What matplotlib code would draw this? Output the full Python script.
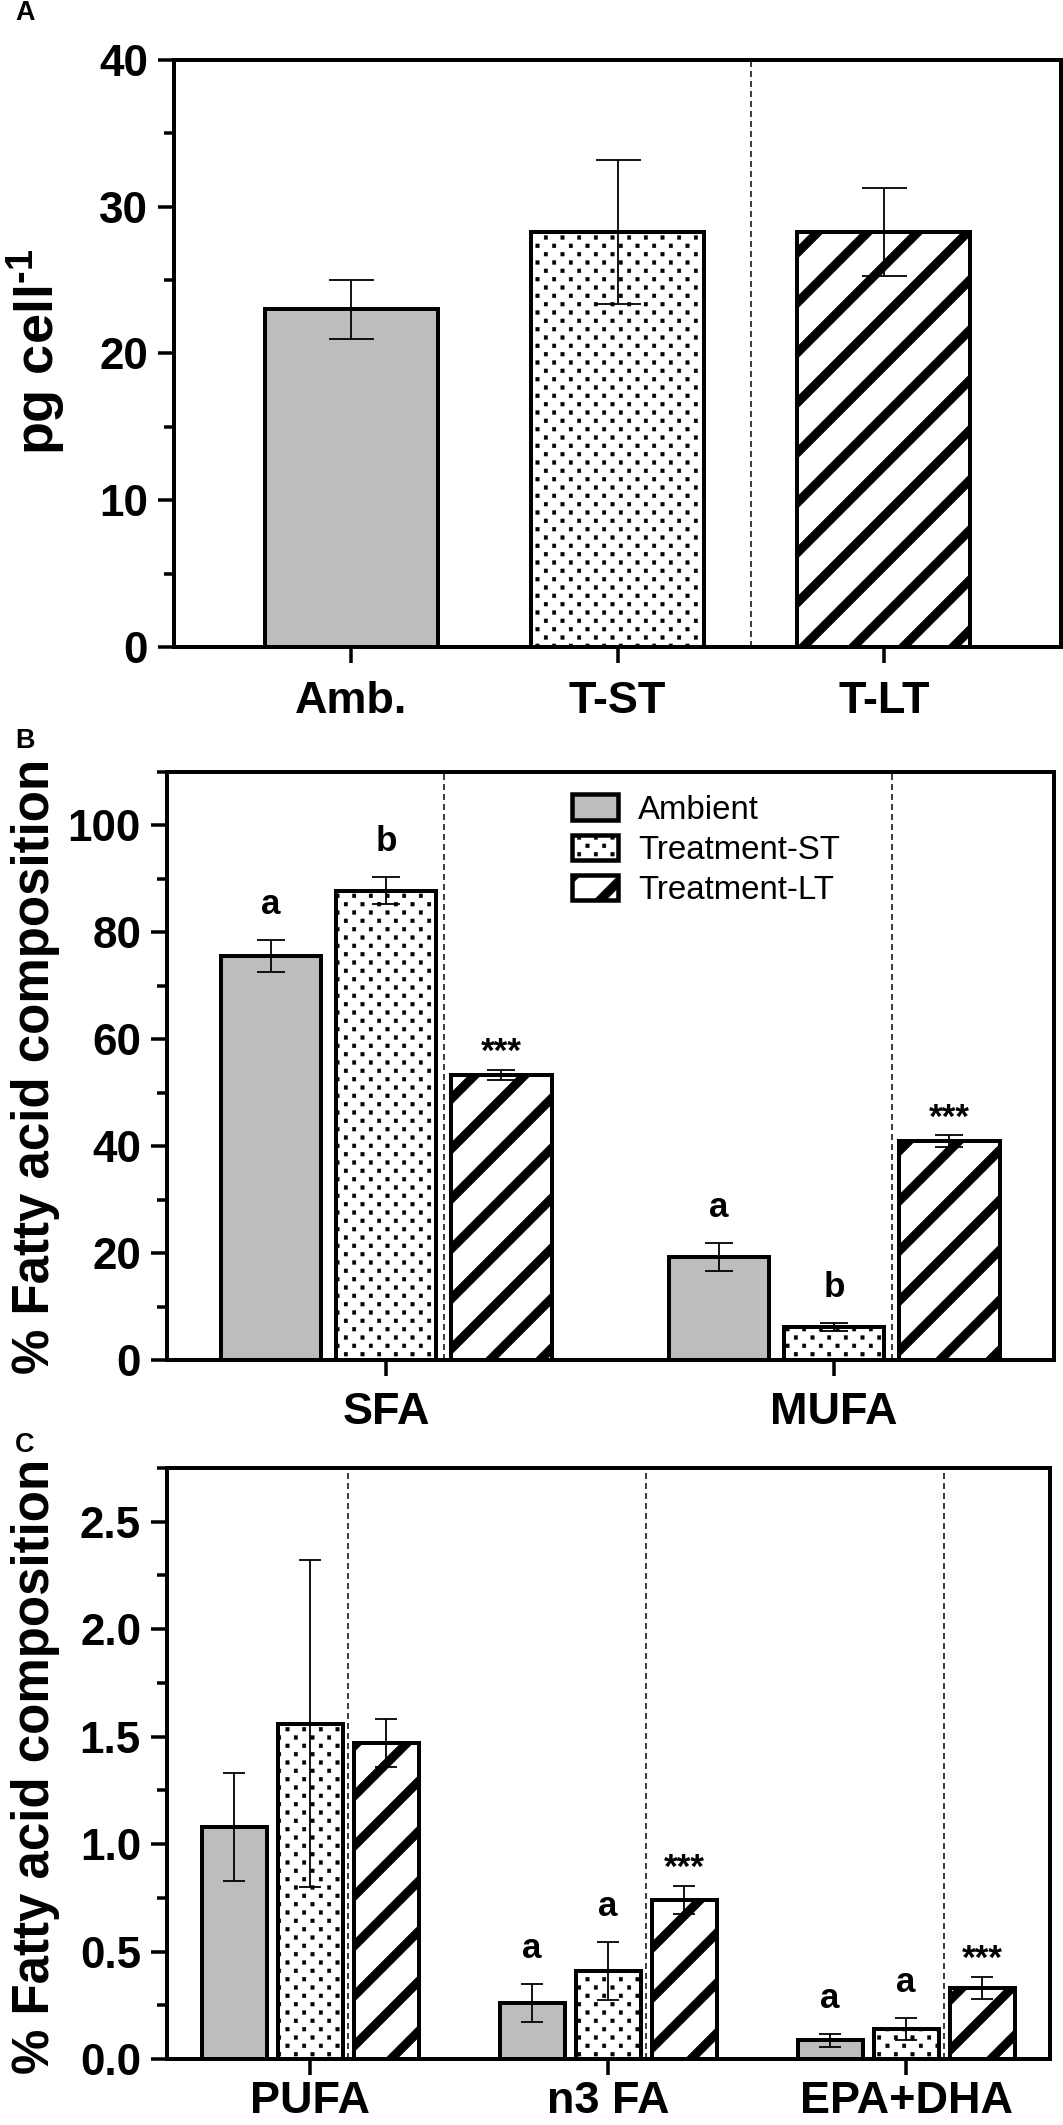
import numpy as np
import matplotlib
matplotlib.use('Agg')
import matplotlib.pyplot as plt
import matplotlib.hatch as mhatch
from matplotlib.path import Path
from matplotlib.ticker import MultipleLocator

# ---------------- data ----------------
a_categories = ['Amb.', 'T-ST', 'T-LT']
a_values = [23.0, 28.3, 28.3]
a_errors = [2.0, 4.9, 3.0]

series_names = ['Ambient', 'Treatment-ST', 'Treatment-LT']

b_groups = ['SFA', 'MUFA']
b_ambient = [75.5, 19.3]
b_ambient_err = [3.0, 2.6]
b_st = [87.8, 6.2]
b_st_err = [2.5, 0.7]
b_lt = [53.3, 40.9]
b_lt_err = [0.9, 1.1]
b_ambient_sig = ['a', 'a']
b_st_sig = ['b', 'b']
b_lt_sig = ['***', '***']

c_groups = ['PUFA', 'n3 FA', 'EPA+DHA']
c_ambient = [1.08, 0.26, 0.088]
c_ambient_err = [0.25, 0.09, 0.03]
c_st = [1.56, 0.41, 0.14]
c_st_err = [0.76, 0.135, 0.05]
c_lt = [1.47, 0.74, 0.33]
c_lt_err = [0.11, 0.066, 0.05]
c_ambient_sig = ['', 'a', 'a']
c_st_sig = ['', 'a', 'a']
c_lt_sig = ['', '***', '***']

# ---------------- styling helpers ----------------
DPI = 300
W, H = 1063, 2125


def pt(px):
    return px * 72.0 / DPI


class StaggeredDots(mhatch.HatchPatternBase):
    """Staggered grid of small filled squares used for the '.' hatch."""

    def __init__(self, hatch, density):
        if hatch.count('.'):
            self.ncols, self.nrows = 18, 36
        else:
            self.ncols, self.nrows = 0, 0
        self.num_vertices = self.ncols * self.nrows * 5

    def set_vertices_and_codes(self, vertices, codes):
        hx = 3.4 / DPI / 2
        hy = 3.8 / DPI / 2
        pts = []
        for r in range(self.nrows):
            shift = 0.5 if r % 2 else 0.0
            y = (r + 0.5) / self.nrows
            for c in range(self.ncols):
                pts.append((((c + 0.25 + shift) / self.ncols) % 1.0, y))
        centers = np.array(pts)
        sq = np.array([[-hx, -hy], [hx, -hy], [hx, hy], [-hx, hy], [-hx, -hy]])
        vertices[:] = (centers[:, None, :] + sq[None, :, :]).reshape(-1, 2)
        cc = np.array([Path.MOVETO, Path.LINETO, Path.LINETO, Path.LINETO, Path.CLOSEPOLY])
        codes[:] = np.tile(cc, len(centers))


mhatch._hatch_types = [t for t in mhatch._hatch_types
                       if t is not mhatch.SmallFilledCircles] + [StaggeredDots]

plt.rcParams['font.family'] = ['Liberation Sans', 'DejaVu Sans']
plt.rcParams['mathtext.fontset'] = 'custom'
plt.rcParams['mathtext.bf'] = 'Liberation Sans:bold'
plt.rcParams['mathtext.rm'] = 'Liberation Sans:bold'
plt.rcParams['lines.scale_dashes'] = False
plt.rcParams['hatch.color'] = 'black'

STYLES = [
    dict(fc='#bdbdbd', hatch=None, hlw=1.0),
    dict(fc='white', hatch='.', hlw=pt(0.4)),
    dict(fc='white', hatch='//', hlw=pt(9.0)),
]

fig = plt.figure(figsize=(W / DPI, H / DPI), dpi=DPI)


def add_axes(left, top, right, bottom):
    return fig.add_axes([left / W, 1 - bottom / H, (right - left) / W, (bottom - top) / H])


ax_a = add_axes(174, 60, 1061, 647)
ax_b = add_axes(167, 772, 1054, 1360)
ax_c = add_axes(167, 1468, 1050, 2059)


def set_hlw(patch, lw):
    if hasattr(patch, 'set_hatch_linewidth'):
        patch.set_hatch_linewidth(lw)


def draw_bars(ax, x, h, err, width, style, capw, label=None):
    plt.rcParams['hatch.linewidth'] = style['hlw']
    bars = ax.bar(x, h, width, color=style['fc'], edgecolor='black',
                  linewidth=pt(4), hatch=style['hatch'], label=label, zorder=2)
    for p in bars:
        set_hlw(p, style['hlw'])
    ax.errorbar(x, h, yerr=err, fmt='none', ecolor='black', elinewidth=pt(1.8),
                capsize=pt(capw / 2), capthick=pt(1.8), zorder=3)
    return bars


def style_axes(ax, xlim, ylim, major, minor, xticks, xlabels, xpad):
    ax.set_xlim(*xlim)
    ax.set_ylim(*ylim)
    ax.yaxis.set_major_locator(MultipleLocator(major))
    ax.yaxis.set_minor_locator(MultipleLocator(minor))
    ax.set_xticks(xticks)
    ax.set_xticklabels(xlabels)
    ax.tick_params(axis='both', which='major', direction='out', length=pt(16),
                   width=pt(3.5), color='black')
    ax.tick_params(axis='y', which='major', labelsize=pt(44), pad=pt(10))
    ax.tick_params(axis='x', which='major', labelsize=pt(45), pad=pt(xpad))
    ax.tick_params(axis='y', which='minor', direction='out', length=pt(10), width=pt(3.5))
    ax.tick_params(axis='x', which='minor', bottom=False)
    for lab in ax.get_xticklabels() + ax.get_yticklabels():
        lab.set_fontweight('bold')
    for s in ax.spines.values():
        s.set_linewidth(pt(4))


def vdash(ax, x):
    ax.axvline(x, color='black', linewidth=pt(1.5), linestyle=(0, (pt(6), pt(4))), zorder=1.5)


def annotate(ax, x, y, s, fs):
    if not s:
        return
    off = pt(8) if '*' in s else pt(26)
    ax.annotate(s, xy=(x, y), xytext=(0, off), textcoords='offset points',
                ha='center', va='baseline', fontsize=fs, fontweight='bold', zorder=4)


# ---------------- panel A ----------------
xa = np.arange(len(a_categories))
for i in range(len(a_categories)):
    draw_bars(ax_a, [xa[i]], [a_values[i]], [a_errors[i]], 0.65, STYLES[i], 45)
vdash(ax_a, 1.5)
style_axes(ax_a, (-0.665, 2.665), (0, 40), 10, 5, xa, a_categories, 18)

# ---------------- panel B ----------------
xb = np.arange(len(b_groups))
sb, wb = 0.257, 0.225
b_vals = [b_ambient, b_st, b_lt]
b_errs = [b_ambient_err, b_st_err, b_lt_err]
b_sigs = [b_ambient_sig, b_st_sig, b_lt_sig]
for k in range(3):
    xs = xb + (k - 1) * sb
    draw_bars(ax_b, xs, b_vals[k], b_errs[k], wb, STYLES[k], 27, label=series_names[k])
    for j in range(len(b_groups)):
        annotate(ax_b, xs[j], b_vals[k][j] + b_errs[k][j], b_sigs[k][j], pt(35))
for g in xb:
    vdash(ax_b, g + sb / 2)
style_axes(ax_b, (-0.489, 1.491), (0, 110), 20, 10, xb, b_groups, 16)
leg = ax_b.legend(loc='upper left', bbox_to_anchor=(0.4566, 0.962), frameon=False,
                  fontsize=pt(33), handlelength=1.4, handleheight=0.82, handletextpad=0.6,
                  labelspacing=0.27, borderpad=0, borderaxespad=0)
handles = getattr(leg, 'legend_handles', None) or getattr(leg, 'legendHandles', [])
for hnd, st in zip(handles, STYLES):
    set_hlw(hnd, st['hlw'])
    hnd.set_linewidth(pt(4.5))

# ---------------- panel C ----------------
xc = np.arange(len(c_groups))
sc, wc = 0.255, 0.218
c_vals = [c_ambient, c_st, c_lt]
c_errs = [c_ambient_err, c_st_err, c_lt_err]
c_sigs = [c_ambient_sig, c_st_sig, c_lt_sig]
for k in range(3):
    xs = xc + (k - 1) * sc
    draw_bars(ax_c, xs, c_vals[k], c_errs[k], wc, STYLES[k], 22)
    for j in range(len(c_groups)):
        annotate(ax_c, xs[j], c_vals[k][j] + c_errs[k][j], c_sigs[k][j], pt(35))
for g in xc:
    vdash(ax_c, g + sc / 2)
style_axes(ax_c, (-0.48, 2.483), (0, 2.75), 0.5, 0.25, xc, c_groups, 6)

# ---------------- labels ----------------
fig.text(36 / W, 1 - 352 / H, r'pg cell$^{\text{-1}}$', rotation=90, ha='center', va='center',
         fontsize=pt(54), fontweight='bold')
fig.text(36 / W, 1 - 1066 / H, '% Fatty acid composition', rotation=90, ha='center', va='center',
         fontsize=pt(51), fontweight='bold')
fig.text(36 / W, 1 - 1766 / H, '% Fatty acid composition', rotation=90, ha='center', va='center',
         fontsize=pt(51), fontweight='bold')

for lab, ytop in [('A', 0), ('B', 728), ('C', 1432)]:
    fig.text(15 / W, 1 - ytop / H, lab, ha='left', va='top', fontsize=pt(27), fontweight='bold')

fig.savefig('out.png', dpi=DPI)
